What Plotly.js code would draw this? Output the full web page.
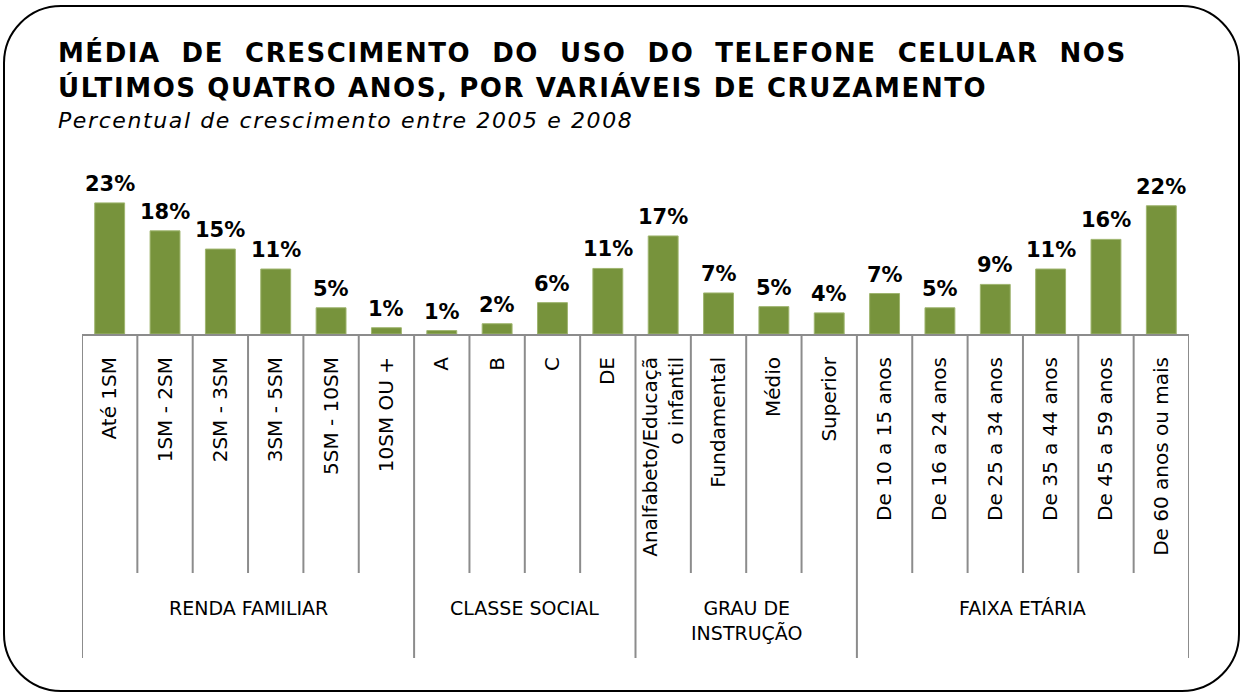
<!DOCTYPE html>
<html>
<head>
<meta charset="utf-8">
<script src="https://cdn.plot.ly/plotly-3.0.1.min.js"></script>
<style>
  html, body { margin: 0; padding: 0; background: #fff; }
  #wrap { position: relative; width: 1241px; height: 694px; }
  #chart { position: absolute; left: 0; top: 0; width: 1241px; height: 694px; }
  #frame { position: absolute; left: 3px; top: 5px; width: 1237px; height: 687px;
           box-sizing: border-box; border: 2px solid #000; border-radius: 58px; pointer-events: none; }
</style>
</head>
<body>
<div id="wrap"><div id="chart"></div><div id="frame"></div></div>
<script>
// ---- data ----
const categories = ["Até 1SM", "1SM - 2SM", "2SM - 3SM", "3SM - 5SM", "5SM - 10SM", "10SM OU +",
  "A", "B", "C", "DE",
  "Analfabeto/Educaçã<br>o infantil", "Fundamental", "Médio", "Superior",
  "De 10 a 15 anos", "De 16 a 24 anos", "De 25 a 34 anos", "De 35 a 44 anos", "De 45 a 59 anos", "De 60 anos ou mais"];
const values = [23.0, 18.1, 14.9, 11.4, 4.6, 1.1,
  0.6, 1.8, 5.5, 11.5,
  17.2, 7.2, 4.8, 3.7,
  7.1, 4.6, 8.7, 11.4, 16.6, 22.5];
const valueLabels = ["23%", "18%", "15%", "11%", "5%", "1%",
  "1%", "2%", "6%", "11%",
  "17%", "7%", "5%", "4%",
  "7%", "5%", "9%", "11%", "16%", "22%"];
const groupNames = ["RENDA FAMILIAR", "CLASSE SOCIAL", "GRAU DE<br>INSTRUÇÃO", "FAIXA ETÁRIA"];
const groupSizes = [6, 4, 4, 6];
const titleLine1 = "MÉDIA DE CRESCIMENTO DO USO DO TELEFONE CELULAR NOS";
const titleLine2 = "ÚLTIMOS QUATRO ANOS, POR VARIÁVEIS DE CRUZAMENTO";
const subtitle = "Percentual de crescimento entre 2005 e 2008";

// ---- layout geometry ----
const W = 1241, H = 694;
const L = 82, R = 1189, T = 174, B = 334;
const pw = R - L, ph = B - T;
const px = x => (x - L) / pw;          // pixel x -> paper x
const py = y => (B - y) / ph;          // pixel y -> paper y
const FONT = "DejaVu Sans, Verdana, sans-serif";
const GREY = "#8c8c8c";
const TITLE_LEFT = 58;

const idx = categories.map((_, i) => i);

const shapes = [];
let start = 0;
const groupAnn = [];
groupSizes.forEach((n, g) => {
  shapes.push({type: "line", xref: "x", yref: "paper", x0: start - 0.5, x1: start - 0.5,
               y0: 0, y1: py(658), line: {color: GREY, width: 2}});
  for (let k = 1; k < n; k++) {
    const xb = start + k - 0.5;
    shapes.push({type: "line", xref: "x", yref: "paper", x0: xb, x1: xb,
                 y0: 0, y1: py(573), line: {color: GREY, width: 2}});
  }
  groupAnn.push({xref: "x", yref: "paper", x: start + (n - 1) / 2, y: py(595), yanchor: "top",
                 text: groupNames[g], showarrow: false, font: {family: FONT, size: 19, color: "#000"}});
  start += n;
});
shapes.push({type: "line", xref: "x", yref: "paper", x0: start - 0.5, x1: start - 0.5,
             y0: 0, y1: py(658), line: {color: GREY, width: 2}});

const valueAnn = idx.map(i => ({xref: "x", yref: "y", x: i, y: values[i], yanchor: "bottom", yshift: 5,
  text: "<b>" + valueLabels[i] + "</b>", showarrow: false, font: {family: FONT, size: 21, color: "#000"}}));

const justify = s => s.split(" ").join(" \u00a0");

const titleAnn = [
  {xref: "paper", yref: "paper", x: px(TITLE_LEFT), y: py(52), xanchor: "left", yanchor: "middle",
   text: "<b>" + justify(titleLine1) + "</b>", showarrow: false, font: {family: FONT, size: 26, color: "#000"}},
  {xref: "paper", yref: "paper", x: px(TITLE_LEFT), y: py(87), xanchor: "left", yanchor: "middle",
   text: "<b>" + titleLine2 + "</b>", showarrow: false, font: {family: FONT, size: 26, color: "#000"}},
  {xref: "paper", yref: "paper", x: px(TITLE_LEFT), y: py(120), xanchor: "left", yanchor: "middle",
   text: "<i>" + subtitle + "</i>", showarrow: false, font: {family: FONT, size: 22, color: "#000"}}
];

const trace = {
  type: "bar", x: idx, y: values,
  marker: {color: "#77933C", line: {color: "#9fb56f", width: 1}},
  width: 0.54, hoverinfo: "skip"
};

const layout = {
  width: W, height: H,
  margin: {l: L, r: W - R, t: T, b: H - B, pad: 0},
  paper_bgcolor: "rgba(0,0,0,0)", plot_bgcolor: "rgba(0,0,0,0)",
  showlegend: false,
  xaxis: {range: [-0.5, categories.length - 0.5], tickmode: "array", tickvals: idx, ticktext: categories,
          tickangle: -90, ticks: "", ticklabelstandoff: 13, showline: true, linecolor: GREY, linewidth: 2,
          showgrid: false, zeroline: false, fixedrange: true,
          tickfont: {family: FONT, size: 20, color: "#000"}},
  yaxis: {range: [0, ph / 5.7], visible: false, showgrid: false, zeroline: false, fixedrange: true},
  shapes: shapes,
  annotations: titleAnn.concat(valueAnn, groupAnn)
};

Plotly.newPlot("chart", [trace], layout, {displayModeBar: false, staticPlot: true}).then(gd => {
  // widen the glyph spacing of the heading texts (wide Verdana-style heading), keeping them left-aligned
  const spacing = {0: "1.5px", 1: "1.6px", 2: "1.6px"};
  const origin = gd.getBoundingClientRect().left;
  Object.keys(spacing).forEach(k => {
    gd.querySelectorAll('.annotation[data-index="' + k + '"] text.annotation-text').forEach(t => {
      t.style.letterSpacing = spacing[k];
      const left = t.getBoundingClientRect().left - origin;
      t.setAttribute("transform", "translate(" + (TITLE_LEFT - left) + ",0)");
    });
  });
});
</script>
</body>
</html>
